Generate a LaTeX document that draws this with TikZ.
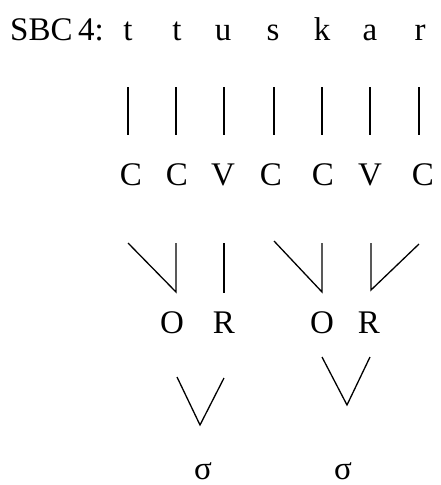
\documentclass[tikz,border=0pt]{standalone}
\usepackage{fontspec}
\setmainfont{Liberation Serif}
\begin{document}
\begin{tikzpicture}[x=1pt,y=-1pt,
  lab/.style={anchor=base,inner sep=0pt,font=\fontsize{33}{36}\selectfont},
  br/.style={line width=1.3pt}]
\useasboundingbox (0,0) rectangle (440,485);
% row 1
\node[lab,anchor=base west] (title) at (10,40) {SBC\,4:};
\foreach \n/\x/\t in {1/128/t,2/177/t,3/223/u,4/273/s,5/322/k,6/370/a,7/420/r}
  \node[lab] (s\n) at (\x,40) {\t};
% vertical association lines
\foreach \n/\x in {1/128,2/176,3/224,4/274,5/322,6/370,7/419}{
  \coordinate (a\n) at (\x,87);
  \coordinate (b\n) at (\x,135);
  \draw[br] (a\n) -- (b\n);
}
% row 2
\foreach \n/\x/\t in {1/131/C,2/177/C,3/223/V,4/271/C,5/323/C,6/370/V,7/423/C}
  \node[lab] (c\n) at (\x,185) {\t};
% tier 2 lines
\coordinate (p1) at (128,243); \coordinate (q1) at (176,292);
\coordinate (p2) at (176,243);
\coordinate (p3) at (224,243); \coordinate (q3) at (224,293);
\coordinate (p4) at (274,241); \coordinate (q4) at (322,292);
\coordinate (p5) at (322,243);
\coordinate (p6) at (371,243); \coordinate (q6) at (371,290);
\coordinate (p7) at (419,244);
\draw[br] (p1) -- (q1) -- (p2);
\draw[br] (p3) -- (q3);
\draw[br] (p4) -- (q4) -- (p5);
\draw[br] (p6) -- (q6) -- (p7);
% O R row
\node[lab] (o1) at (172,333) {O};
\node[lab] (r1) at (224,333) {R};
\node[lab] (o2) at (322,333) {O};
\node[lab] (r2) at (369,333) {R};
% sigma lines
\coordinate (u1) at (177,377); \coordinate (v1) at (200,425); \coordinate (w1) at (224,378);
\coordinate (u2) at (322,357); \coordinate (v2) at (347,405); \coordinate (w2) at (370,357);
\draw[br] (u1) -- (v1) -- (w1);
\draw[br] (u2) -- (v2) -- (w2);
% sigmas
\node[lab] (sig1) at (203,479) {σ};
\node[lab] (sig2) at (343,479) {σ};
\end{tikzpicture}
\end{document}
